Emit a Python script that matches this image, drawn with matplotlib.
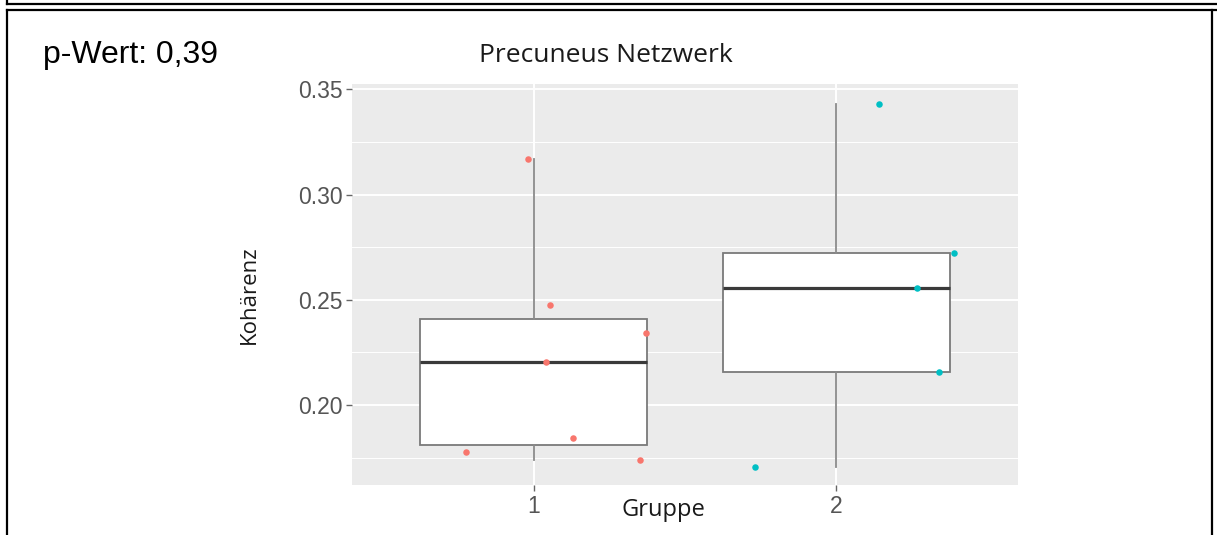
import numpy as np
import matplotlib.pyplot as plt
from matplotlib.lines import Line2D

# values
groups = ["1", "2"]
g1_vals = [0.317, 0.2473, 0.2203, 0.1843, 0.1776, 0.1739, 0.234]
g1_x = [0.981, 1.055, 1.042, 1.130, 0.778, 1.350, 1.370]
g2_vals = [0.3432, 0.2721, 0.2557, 0.2157, 0.1707]
g2_x = [2.141, 2.388, 2.268, 2.340, 1.730]
yticks = [0.20, 0.25, 0.30, 0.35]
ytick_labels = ["0.20", "0.25", "0.30", "0.35"]
title = "Precuneus Netzwerk"
p_text = "p-Wert: 0,39"

W, H = 1217, 535
fig = plt.figure(figsize=(W / 100, H / 100), dpi=100)
fig.patch.set_facecolor("white")

# panel in pixels: left 352, right 1018, top 84, bottom 485
ax = fig.add_axes([352 / W, (H - 485) / H, (1018 - 352) / W, (485 - 84) / H])
ax.set_facecolor("#EBEBEB")
ax.set_xlim(0.4, 2.6)
ax.set_ylim(0.1620, 0.3525)

ax.set_yticks(yticks)
ax.set_yticklabels(ytick_labels)
ax.set_yticks([0.175, 0.225, 0.275, 0.325], minor=True)
ax.set_xticks([1, 2])
ax.set_xticklabels(groups)
ax.grid(True, which="major", color="white", lw=1.4)
ax.grid(True, which="minor", axis="y", color="white", lw=0.7)
ax.set_axisbelow(True)
for s in ax.spines.values():
    s.set_visible(False)
ax.tick_params(which="major", length=4, width=1, color="#666666",
               labelcolor="#555555", labelsize=16.5, pad=3)
ax.tick_params(which="minor", length=0)
for lab in ax.get_xticklabels() + ax.get_yticklabels():
    lab.set_family("Liberation Sans")

ax.boxplot([g1_vals, g2_vals], positions=[1, 2], widths=0.75, whis=1.5,
           showcaps=False, showfliers=False, patch_artist=True,
           boxprops=dict(facecolor="white", edgecolor="#7a7a7a", lw=1.3),
           whiskerprops=dict(color="#8a8a8a", lw=1.3),
           medianprops=dict(color="#3a3a3a", lw=2.3),
           manage_ticks=False, zorder=2)

ax.scatter(g1_x, g1_vals, s=22, color="#F8766D", zorder=3, linewidths=0)
ax.scatter(g2_x, g2_vals, s=22, color="#00BFC4", zorder=3, linewidths=0)

# texts placed in pixel positions of the figure
fig.text(43 / W, 1 - 63 / H, p_text, family="Liberation Sans", fontsize=23,
         va="baseline", ha="left", color="black")
fig.text(606 / W, 1 - 62 / H, title, family="Open Sans", fontsize=19,
         va="baseline", ha="center", color="#1a1a1a")
fig.text(663 / W, 1 - 516 / H, "Gruppe", family="Open Sans", fontsize=17,
         va="baseline", ha="center", color="#1a1a1a")
fig.text(249 / W, 1 - 295 / H, "Kohärenz", family="Open Sans", fontsize=16,
         va="center", ha="center", rotation=90, color="#1a1a1a")

# frame lines around the picture
def px_line(x0, y0, x1, y1):
    fig.add_artist(Line2D([x0 / W, x1 / W], [1 - y0 / H, 1 - y1 / H],
                          transform=fig.transFigure, color="black", lw=1.6))

px_line(7, 4, W, 4)
px_line(7, 0, 7, 4)
px_line(7, 10, W, 10)
px_line(7, 10, 7, H)
px_line(1212, 10, 1212, H)

fig.savefig("out.png", dpi=100)
